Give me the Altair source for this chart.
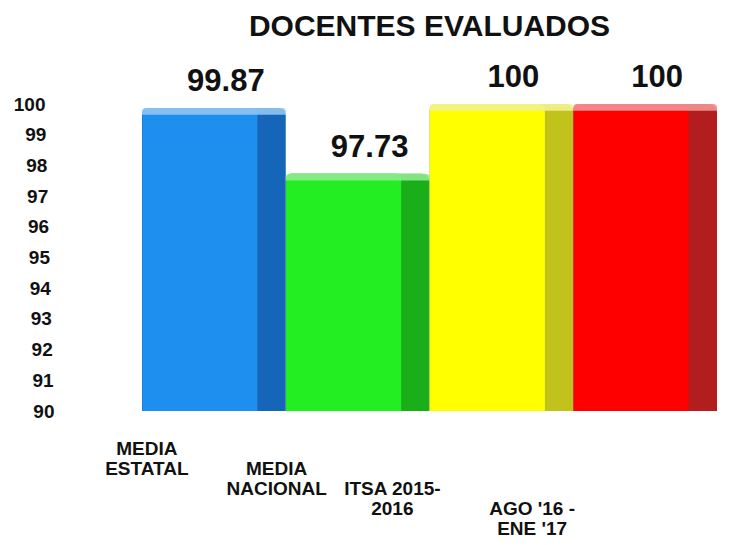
import altair as alt
import pandas as pd

categories = ["MEDIA|ESTATAL", "MEDIA|NACIONAL", "ITSA 2015-|2016", "AGO '16 -|ENE '17"]
values = [99.87, 97.73, 100, 100]
value_labels = ["99.87", "97.73", "100", "100"]
front_colors = ["#1E8FEF", "#22EE22", "#FFFF00", "#FF0000"]
side_colors = ["#1565B8", "#1AAE1A", "#C2C21C", "#B21E1E"]
top_colors = ["#8FC6F2", "#8CEB8C", "#F2F28F", "#F29494"]
y_ticks = [90, 91, 92, 93, 94, 95, 96, 97, 98, 99, 100]

df = pd.DataFrame({
    "cat": categories,
    "value": values,
    "label": value_labels,
    "front": front_colors,
    "side": side_colors,
    "top": top_colors,
})

FONT = "Liberation Sans"
CAT_LIST = "['MEDIA|ESTATAL','MEDIA|NACIONAL','ITSA 2015-|2016',\"AGO '16 -|ENE '17\"]"

x_enc = alt.X(
    "cat:N",
    sort=categories,
    scale=alt.Scale(paddingInner=0, paddingOuter=0),
    axis=alt.Axis(
        title=None,
        domain=False,
        ticks=False,
        grid=False,
        labelAngle=0,
        labelFont=FONT,
        labelFontSize=19,
        labelFontWeight="bold",
        labelColor="#111111",
        labelLineHeight=20,
        labelBaseline="top",
        labelExpr="split(datum.label, '|')",
        labelPadding={"expr": "28 + 20 * indexof(" + CAT_LIST + ", datum.value)"},
        labelOffset={"expr": "[-67,-81,-109,-113][indexof(" + CAT_LIST + ", datum.value)]"},
    ),
)

y_scale = alt.Scale(domain=[90, 100], nice=False, zero=False)
y_enc = alt.Y(
    "value:Q",
    scale=y_scale,
    axis=alt.Axis(
        title=None,
        domain=False,
        ticks=False,
        grid=False,
        values=y_ticks,
        tickCount=11,
        labelOverlap=False,
        labelFont=FONT,
        labelFontSize=19,
        labelFontWeight="bold",
        labelColor="#111111",
        labelPadding={"expr": "6 + (datum.value - 90) * 0.9"},
        offset=82,
    ),
)

base = alt.Chart(df)

side = base.mark_bar(cornerRadiusTopLeft=6, cornerRadiusTopRight=8, width=alt.RelativeBandSize(1.0)).encode(
    x=x_enc,
    y=y_enc,
    y2=alt.Y2(datum=90),
    color=alt.Color("side:N", scale=None),
)

front = base.mark_bar(
    cornerRadiusTopLeft=6, cornerRadiusTopRight=6,
    width=alt.RelativeBandSize(0.8), xOffset=-14,
).encode(
    x=x_enc,
    y=y_enc,
    y2=alt.Y2(datum=90),
    color=alt.Color("front:N", scale=None),
)

cap = base.transform_calculate(cap_low="datum.value - 0.22").mark_bar(
    cornerRadiusTopLeft=6, cornerRadiusTopRight=8,
    width=alt.RelativeBandSize(1.0), opacity=0.9,
).encode(
    x=x_enc,
    y=y_enc,
    y2=alt.Y2("cap_low:Q"),
    color=alt.Color("top:N", scale=None),
)

text = base.mark_text(
    font=FONT, fontSize=31, fontWeight="bold", color="#111111",
    baseline="bottom", dy=-10, dx=12,
).encode(
    x=x_enc,
    y=y_enc,
    text="label:N",
)

chart = alt.layer(side, front, cap, text).properties(
    width=575,
    height=307,
    background="white",
    padding={"left": 5, "top": 4, "right": 5, "bottom": 0},
    title=alt.TitleParams(
        "DOCENTES EVALUADOS",
        font=FONT, fontSize=30, fontWeight="bold", color="#111111",
        anchor="middle", offset=20,
    ),
).configure_view(strokeWidth=0).configure_axis(grid=False)

chart.save("out.html", embed_options={"renderer": "svg", "actions": False})
